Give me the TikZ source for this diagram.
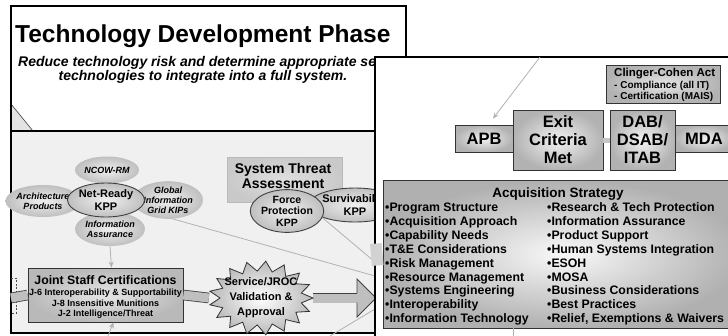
\documentclass[tikz,border=0pt]{standalone}
\usepackage{fontspec}
\setmainfont{Liberation Sans}
\usetikzlibrary{shapes.geometric, arrows.meta}
\newcommand\fsz[2]{\fontsize{#1}{#2}\selectfont}
\tikzset{
  panelline/.style={draw=black, line width=1.3pt},
  oval/.style={ellipse, inner sep=0pt, inner color=gray!12, outer color=gray!50, align=center, font=\fsz{9}{10}\bfseries\itshape},
  kpp/.style={oval, draw=black!75, line width=0.9pt, font=\fsz{11}{12.5}\bfseries},
  gline/.style={draw=gray!60, line width=0.8pt},
  garrow/.style={gline, -{Stealth[length=6pt,width=5pt]}},
  shaft/.style={draw=black!75, line width=0.8pt, double=gray!50, double distance=9pt},
  gbox/.style={rectangle, draw=black!80, line width=0.8pt, inner color=gray!10, outer color=gray!60, inner sep=0pt},
  bigtxt/.style={font=\fsz{16.5}{18}\bfseries, align=center},
  txt/.style={inner sep=0pt},
  listtxt/.style={anchor=base west, inner sep=0pt, font=\fsz{12.3}{14}\bfseries},
}
\begin{document}
\begin{tikzpicture}[x=1pt,y=-1pt]
\useasboundingbox (0,0) rectangle (728,335);
\clip (0,0) rectangle (728,335);
\fill[white] (0,0) rectangle (728,335);

% ---------- left panel ----------
\fill[white] (11,6) rectangle (406,131);
\fill[gray!12] (11,131) rectangle (406,333);
\path[fill=gray!22] (11,104) -- (33,131) -- (11,131) -- cycle;
\draw[gray!50!black, line width=0.6pt] (11,104) -- (33,131);
\draw[panelline] (11,6) rectangle (406,333);
\draw[panelline] (11,131) -- (406,131);

\node[txt, anchor=base west, font=\fsz{24.5}{28}\bfseries] (title) at (15,42) {Technology Development Phase};
\node[txt, anchor=base west, font=\fsz{14}{14}\bfseries\itshape] (sub1) at (18,66.5) {Reduce technology risk and determine appropriate set};
\node[txt, anchor=base, font=\fsz{14}{14}\bfseries\itshape] (sub2) at (203,80.5) {technologies to integrate into a full system.};

% coordinates at right-panel edge
\coordinate (c1) at (375,276);
\coordinate (c2) at (375,262);
\coordinate (c3) at (330,336);
\coordinate (c4) at (375,309);
\coordinate (inL) at (11,298);
\coordinate (hb) at (357,298);
\coordinate (tipA) at (376,298);
\coordinate (cbot) at (108,336);

\draw[gline] (c3) -- (c4);

% ellipses cluster
\node[oval, minimum width=64pt, minimum height=27pt] (ncow) at (107,170) {NCOW-RM};
\node[oval, minimum width=64pt, minimum height=32pt] (arch) at (43,201) {Architecture\\Products};
\node[oval, minimum width=64pt, minimum height=34pt] (ia) at (110,229) {Information\\Assurance};
\draw[gline] (106,200) -- (c1);
\node[oval, minimum width=64pt, minimum height=34pt] (gig) at (168,200) {Global\\Information\\Grid KIPs};
\node[kpp, minimum width=68pt, minimum height=34pt] (nr) at (106,200) {Net-Ready\\KPP};

% system threat assessment
\node[rectangle, draw=gray!55, line width=0.5pt, inner color=gray!25, outer color=gray!42, minimum width=115pt, minimum height=45pt] (sta) at (284.5,179.5) {};
\node[txt, align=center, font=\fsz{14}{15.5}\bfseries] (statxt) at (283,176) {System Threat\\Assessment};
\node[kpp, minimum width=80pt, minimum height=34pt] (surv) at (355,205) {Survivability\\KPP};
\draw[gline] (surv.south west) -- (c2);
\node[kpp, minimum width=64pt, minimum height=36pt, font=\fsz{10.5}{11.5}\bfseries] (fp) at (287,211) {Force\\Protection\\KPP};

% joint staff certifications
\node[gbox, minimum width=155pt, minimum height=54pt, outer color=gray!55, inner color=gray!20] (jsc) at (105.5,295) {};
\node[txt, anchor=base, font=\fsz{12.3}{14}\bfseries] (jsc1) at (105.5,284.5) {Joint Staff Certifications};
\node[txt, anchor=base, font=\fsz{9}{10}\bfseries] (jsc2) at (105.5,295.5) {J-6 Interoperability \& Supportability};
\node[txt, anchor=base, font=\fsz{9}{10}\bfseries] (jsc3) at (105.5,306) {J-8 Insensitive Munitions};
\node[txt, anchor=base, font=\fsz{9}{10}\bfseries] (jsc4) at (105.5,316.5) {J-2 Intelligence/Threat};

\draw[garrow] (ia.south) -- ([xshift=6pt]jsc.north);
\draw[garrow] (cbot) -- ([xshift=8pt]jsc.south);

\draw[dashed, dash pattern=on 2pt off 1.5pt, black!70, line width=0.7pt] (11,278) -- (16,278) -- (16,313) -- (11,313);

% service/JROC star and main arrow
\node[ellipse, minimum width=104pt, minimum height=74pt, inner sep=0pt] (svc) at (261,298) {};
\draw[shaft] (inL) -- (jsc.west);
\draw[shaft] (jsc.east) -- (svc.west);
\draw[shaft] (svc.east) -- (hb);
\path[fill=gray!50] ([yshift=4.6pt]hb) -- ([yshift=19pt]hb) -- (tipA) -- ([yshift=-19pt]hb) -- ([yshift=-4.6pt]hb) -- cycle;
\draw[black!75, line width=0.8pt] ([yshift=4.6pt]hb) -- ([yshift=19pt]hb) -- (tipA) -- ([yshift=-19pt]hb) -- ([yshift=-4.6pt]hb);
\draw[black!80, line width=0.8pt, inner color=white, outer color=gray!55]
  plot[samples at={0,...,33}, variable=\k] ({261+(46.5+5.5*cos(\k*180))*cos(\k*360/34)}, {298+(32+5*cos(\k*180))*sin(\k*360/34)}) -- cycle;
\node[txt, align=center, font=\fsz{11}{15}\bfseries] (svctxt) at (svc.center) {Service/JROC\\Validation \&\\Approval};

% ---------- right panel ----------
\draw[panelline, fill=white] (375,57) rectangle (740,345);
\coordinate (ctop) at (540,57);
\coordinate (cL) at (371,255);
\coordinate (cb2) at (513,336);

\node[gbox, minimum width=114pt, minimum height=38pt, inner color=gray!20, outer color=gray!60] (cca) at (663,84) {};
\node[txt, anchor=base west, font=\fsz{11.5}{13}\bfseries] (cca1) at (614,76) {Clinger-Cohen Act};
\node[txt, anchor=base west, font=\fsz{10}{11}\bfseries] (cca2) at (614,88) {- Compliance (all IT)};
\node[txt, anchor=base west, font=\fsz{10}{11}\bfseries] (cca3) at (614,99.5) {- Certification (MAIS)};

\node[gbox, bigtxt, minimum width=58pt, minimum height=27pt] (apb) at (484,138.5) {APB};
\node[gbox, bigtxt, minimum width=90pt, minimum height=60pt] (exit) at (558,140) {Exit\\Criteria\\Met};
\node[gbox, bigtxt, minimum width=65pt, minimum height=60pt] (dab) at (642.5,140) {DAB/\\DSAB/\\ITAB};
\node[gbox, bigtxt, minimum width=58pt, minimum height=27pt] (mda) at (704,138.5) {MDA};
\draw[line width=5pt, draw=gray!45] (exit.east) -- (dab.west);
\draw[garrow] (ctop) -- ([xshift=9pt, yshift=6pt]apb.north);

\node[gbox, minimum width=360pt, minimum height=148pt, inner color=gray!5, outer color=gray!62] (acq) at (563,254) {};
\node[txt, anchor=base, font=\fsz{13.5}{15}\bfseries] (acqt) at (558,197) {Acquisition Strategy};
\foreach \t [count=\i] in {Program Structure, Acquisition Approach, Capability Needs, T\&E Considerations, Risk Management, Resource Management, Systems Engineering, Interoperability, Information Technology}
  \node[listtxt] (la\i) at (385,{197.6+13.9*\i}) {•\t};
\foreach \t [count=\i] in {Research \& Tech Protection, Information Assurance, Product Support, Human Systems Integration, ESOH, MOSA, Business Considerations, Best Practices, {Relief, Exemptions \& Waivers}}
  \node[listtxt] (lb\i) at (547,{197.6+13.9*\i}) {•\t};

\draw[line width=22pt, draw=gray!35] (cL) -- (acq.west);
\draw[gline] (cb2 |- acq.south) -- (cb2);
\end{tikzpicture}
\end{document}
